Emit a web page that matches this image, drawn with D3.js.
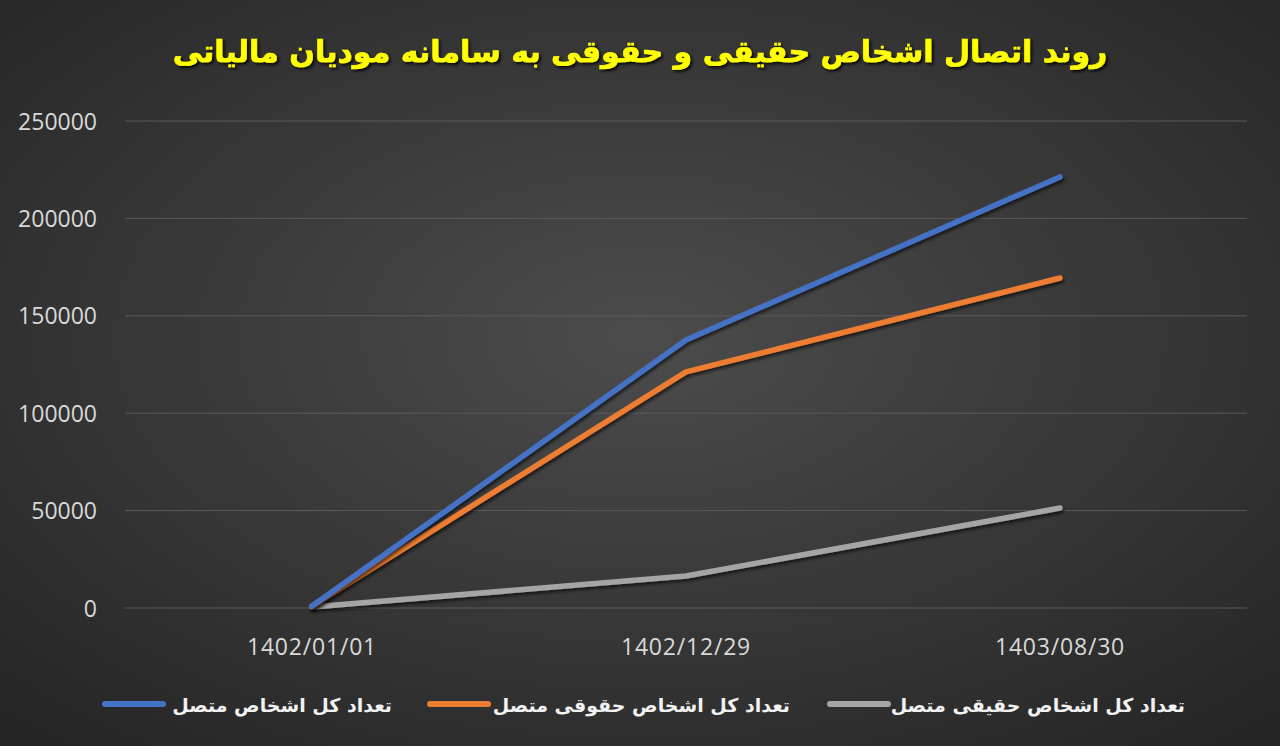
<!DOCTYPE html>
<html>
<head>
<meta charset="utf-8">
<script src="https://cdn.jsdelivr.net/npm/d3@7"></script>
<style>
  html, body { margin: 0; padding: 0; background: #333; }
  svg { display: block; }
</style>
</head>
<body>
<div id="chart"></div>
<script>
// data
const dates = ["1402/01/01", "1402/12/29", "1403/08/30"];
const totalConnected = [1000, 137600, 221300];
const legalConnected = [1000, 121200, 169400];
const realConnected = [500, 16400, 51300];
const yTicks = [0, 50000, 100000, 150000, 200000, 250000];

const series = [
  { name: "تعداد کل اشخاص متصل", values: totalConnected, color: "#4472c4" },
  { name: "تعداد کل اشخاص حقوقی متصل", values: legalConnected, color: "#ed7d31" },
  { name: "تعداد کل اشخاص حقیقی متصل", values: realConnected, color: "#a5a5a5" },
];

const width = 1280;
const height = 746;
const margin = { top: 121, right: 33, bottom: 138, left: 125 };

const svg = d3.select("#chart")
  .append("svg")
  .attr("width", width)
  .attr("height", height);

const defs = svg.append("defs");
const bg = defs.append("radialGradient")
  .attr("id", "bg")
  .attr("cx", "50%").attr("cy", "45%").attr("r", "70%");
bg.append("stop").attr("offset", "0%").attr("stop-color", "#4c4c4c");
bg.append("stop").attr("offset", "100%").attr("stop-color", "#262626");

const shadow = defs.append("filter").attr("id", "shadow")
  .attr("x", "-10%").attr("y", "-10%").attr("width", "120%").attr("height", "130%");
shadow.append("feDropShadow")
  .attr("dx", 1.5).attr("dy", 2.5).attr("stdDeviation", 1.8)
  .attr("flood-color", "#000").attr("flood-opacity", 0.6);

const tshadow = defs.append("filter").attr("id", "tshadow");
tshadow.append("feDropShadow")
  .attr("dx", 2).attr("dy", 2).attr("stdDeviation", 1.5)
  .attr("flood-color", "#000").attr("flood-opacity", 0.85);

svg.append("rect").attr("width", width).attr("height", height).attr("fill", "url(#bg)");

const x = d3.scaleBand()
  .domain(dates)
  .range([margin.left, width - margin.right]);

const y = d3.scaleLinear()
  .domain([0, 250000])
  .range([height - margin.bottom, margin.top]);

// gridlines
svg.append("g")
  .selectAll("line")
  .data(yTicks)
  .join("line")
  .attr("x1", margin.left)
  .attr("x2", width - margin.right)
  .attr("y1", (d) => y(d))
  .attr("y2", (d) => y(d))
  .attr("stroke", "#5a5a5a")
  .attr("stroke-width", 1);

// y axis labels
const yAxis = svg.append("g")
  .attr("transform", `translate(${margin.left - 25},0)`)
  .call(d3.axisLeft(y).tickValues(yTicks).tickSize(0).tickFormat(d3.format("d")));
yAxis.select(".domain").remove();
yAxis.selectAll("text")
  .attr("fill", "#d9d9d9")
  .attr("font-family", "'Open Sans', sans-serif")
  .attr("font-size", 23)
  .attr("dy", "0.35em");

// x axis labels
const xAxis = svg.append("g")
  .attr("transform", `translate(0,${height - margin.bottom + 36})`)
  .call(d3.axisBottom(x).tickSize(0));
xAxis.select(".domain").remove();
xAxis.selectAll("text")
  .attr("fill", "#d9d9d9")
  .attr("font-family", "'Open Sans', sans-serif")
  .attr("font-size", 23)
  .attr("letter-spacing", 0.8)
  .attr("dy", "0.35em");

// lines
const line = d3.line()
  .x((d, i) => x(dates[i]) + x.bandwidth() / 2)
  .y((d) => y(d));

svg.append("g")
  .selectAll("path")
  .data(series.slice().reverse())
  .join("path")
  .attr("d", (s) => line(s.values))
  .attr("fill", "none")
  .attr("stroke", (s) => s.color)
  .attr("stroke-width", 5.5)
  .attr("stroke-linecap", "round")
  .attr("stroke-linejoin", "round")
  .attr("filter", "url(#shadow)");

// title
svg.append("text")
  .attr("x", 640)
  .attr("y", 62)
  .attr("text-anchor", "middle")
  .attr("direction", "rtl")
  .attr("fill", "#ffff00")
  .attr("font-family", "'DejaVu Sans', sans-serif")
  .attr("font-weight", "bold")
  .attr("font-size", 30)
  .attr("stroke", "#ffff00")
  .attr("stroke-width", 0.6)
  .attr("filter", "url(#tshadow)")
  .text("روند اتصال اشخاص حقیقی و حقوقی به سامانه مودیان مالیاتی");

// legend
const legendX = [[105, 392], [430, 790], [830, 1185]];
const legend = svg.append("g")
  .selectAll("g")
  .data(series)
  .join("g");

legend.append("line")
  .attr("x1", (d, i) => legendX[i][0])
  .attr("x2", (d, i) => legendX[i][0] + 58)
  .attr("y1", 704)
  .attr("y2", 704)
  .attr("stroke", (d) => d.color)
  .attr("stroke-width", 6)
  .attr("stroke-linecap", "round");

legend.append("text")
  .attr("x", (d, i) => legendX[i][1])
  .attr("y", 712)
  .attr("text-anchor", "start")
  .attr("direction", "rtl")
  .attr("fill", "#f2f2f2")
  .attr("font-family", "'DejaVu Sans', sans-serif")
  .attr("font-weight", "bold")
  .attr("font-size", 19)
  .text((d) => d.name);
</script>
</body>
</html>
